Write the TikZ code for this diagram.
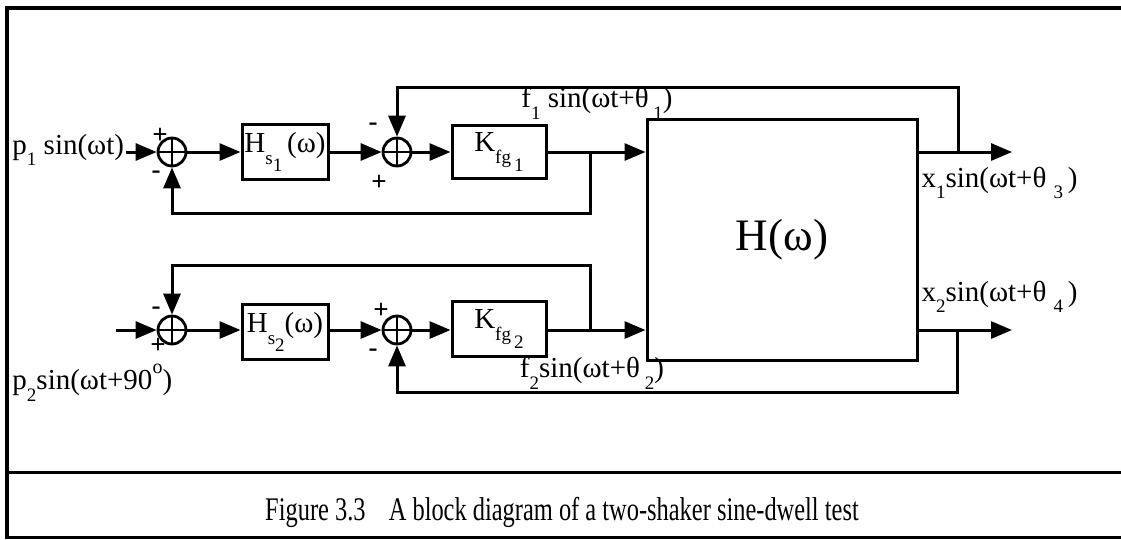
\documentclass[tikz,border=0pt]{standalone}
\usepackage{fontspec}
\setmainfont{Liberation Serif}
\usetikzlibrary{arrows.meta}
\newcommand\lw[2][0.4em]{\raisebox{-#1}{\fontsize{19}{19}\selectfont #2}}
\newcommand\upo{\raisebox{0.55em}{\fontsize{20}{20}\selectfont o}}
\begin{document}
\begin{tikzpicture}[x=1pt,y=-1pt,
  line width=3pt,
  lbl/.style={font=\fontsize{29}{29}\selectfont, inner sep=0pt},
  blk/.style={draw, rectangle, inner sep=0pt, line width=3pt, font=\fontsize{29}{29}\selectfont},
  sumj/.style={draw, circle, minimum size=28pt, inner sep=0pt, line width=2.8pt,
    path picture={\draw[line width=2.4pt] (path picture bounding box.north) -- (path picture bounding box.south)
      (path picture bounding box.west) -- (path picture bounding box.east);}},
  sig/.style={-{Triangle[length=21pt,width=17pt]}},
  sgn/.style={font=\fontsize{27}{27}\selectfont\bfseries, inner sep=0pt}
]
\useasboundingbox (0,0) rectangle (1121,539);
% frame
\draw[line width=4pt] (5,8) -- (1121,8);
\draw[line width=3.5pt] (7,6) -- (7,539);
\draw[line width=3pt] (5,472) -- (1121,472);
\draw[line width=3pt] (5,537) -- (1121,537);

% top row
\node[sumj] (s1) at (172,152) {};
\node[blk, minimum width=86pt, minimum height=55pt] (hs1) at (285,152) {H\lw{s\lw{1}}\,(ω)};
\node[sumj] (s2) at (397,152) {};
\node[blk, minimum width=94pt, minimum height=53pt] (kf1) at (499,152) {K\lw{fg\lw{\,1}}};
\node[blk, minimum width=270pt, minimum height=241pt, font=\fontsize{45}{45}\selectfont] (H) at (782,239.5) {H(ω)};
\coordinate (j1) at (590,152);
\coordinate (o1) at (1012,152);
\coordinate (v1) at (958,152);

% bottom row
\node[sumj] (s3) at (172,330) {};
\node[blk, minimum width=86pt, minimum height=55pt] (hs2) at (285,332) {H\lw{s\lw{2}}(ω)};
\node[sumj] (s4) at (397,330) {};
\node[blk, minimum width=94pt, minimum height=55pt] (kf2) at (499,329) {K\lw{fg\lw{\,2}}};
\coordinate (j2) at (590,330);
\coordinate (o2) at (1012,330);
\coordinate (v2) at (957,330);

% input labels
\node[lbl, anchor=west] (p1) at (11,150) {p\lw{1} sin(ωt)};
\node[lbl, anchor=west] (p2) at (11,383) {p\lw{2}sin(ωt+90\upo)};
\coordinate (in1) at (126,152);
\coordinate (in2) at (116,330);

% connectors top
\draw[sig] (in1) -- (s1);
\draw[sig] (s1) -- (hs1);
\draw[sig] (hs1) -- (s2);
\draw[sig] (s2) -- (kf1);
\draw[sig] (kf1.east |- j1) -- (H.west |- j1);
\draw[sig] (j1) -- (590,213) -- (172,213) -- (s1);
\draw[sig] (H.east |- o1) -- (o1);
\draw[sig] (v1) -- (958,87) -- (397,87) -- (s2);

% connectors bottom
\draw[sig] (in2) -- (s3);
\draw[sig] (s3) -- (hs2.west |- s3);
\draw[sig] (hs2.east |- s4) -- (s4);
\draw[sig] (s4) -- (kf2.west |- s4);
\draw[sig] (kf2.east |- j2) -- (H.west |- j2);
\draw[sig] (j2) -- (590,265) -- (172,265) -- (s3);
\draw[sig] (H.east |- o2) -- (o2);
\draw[sig] (v2) -- (957,392) -- (397,392) -- (s4);

% signs
\node[sgn] (a1) at (160,136) {+};
\node[sgn] (a2) at (156,175) {-};
\node[sgn] (a3) at (373,127) {-};
\node[sgn] (a4) at (379,183) {+};
\node[sgn] (a5) at (156,311) {-};
\node[sgn] (a6) at (158,346) {+};
\node[sgn] (a7) at (381,311) {+};
\node[sgn] (a8) at (373,353) {-};

% signal labels
\node[lbl] (f1) at (597,103) {f\lw{1} sin(ωt+θ\,\lw{1})};
\node[lbl] (f2) at (592,373) {f\lw{2}sin(ωt+θ\,\lw{2})};
\node[lbl, anchor=west] (x1) at (920,183) {x\lw{1}sin(ωt+θ\hspace{0.25em}\lw{3}\,)};
\node[lbl, anchor=west] (x2) at (920,297) {x\lw{2}sin(ωt+θ\hspace{0.25em}\lw{4}\,)};

% caption
\node[inner sep=0pt] (cap) at (562,512) {\scalebox{0.74}[1]{\fontsize{33}{33}\selectfont Figure 3.3\hspace{0.7em} A block diagram of a two-shaker sine-dwell test}};
\end{tikzpicture}
\end{document}
